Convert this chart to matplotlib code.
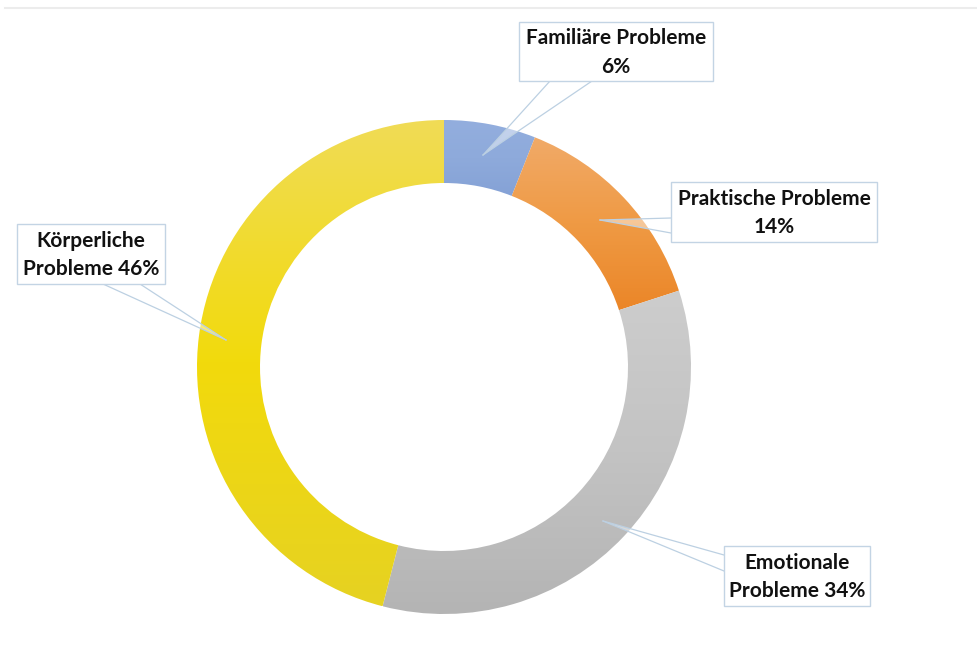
import numpy as np
import matplotlib.pyplot as plt
from matplotlib.patches import Polygon

# Data
labels = ["Familiäre Probleme\n6%", "Praktische Probleme\n14%",
          "Emotionale\nProbleme 34%", "Körperliche\nProbleme 46%"]
values = [6, 14, 34, 46]
# gradient colours per slice (top, middle, bottom)
grad_colors = [["#93aede", "#8eaadb", "#85a2d6"],
               ["#f1aa68", "#ef9a44", "#eb8628"],
               ["#cdcdcd", "#c3c3c3", "#b4b4b4"],
               ["#f0dc56", "#f2da0c", "#e6d222"]]

W, H = 978, 666


def px(x, y):
    # image pixel coords -> axes data coords
    return x, H - y


fig = plt.figure(figsize=(W / 100, H / 100), dpi=100)
ax = fig.add_axes([0, 0, 1, 1])

cx, cy = px(444, 367)
R = 247
ring = 63

wedges, _ = ax.pie(values, startangle=90, counterclock=False, center=(cx, cy),
                   radius=R, wedgeprops=dict(width=ring, linewidth=0),
                   frame=True)

# gradient fill for every wedge, clipped to the wedge
for w, cols in zip(wedges, grad_colors):
    w.set_facecolor("none")
    ext = w.get_path().get_extents()
    rgb = np.array([plt.matplotlib.colors.to_rgb(c) for c in cols])
    t = np.linspace(0, 1, 200)
    stops = [0, 0.5, 1]
    grad = np.stack([np.interp(t, stops, rgb[::-1, k]) for k in range(3)], axis=-1)
    img = ax.imshow(grad[:, None, :], extent=(ext.x0, ext.x1, ext.y0, ext.y1),
                    origin="lower", aspect="auto", interpolation="bilinear", zorder=1)
    img.set_clip_path(w)

ax.set_xlim(0, W)
ax.set_ylim(0, H)
ax.set_aspect("equal")
ax.axis("off")

# label boxes: (x0, y0, x1, y1) in image pixels
boxes = [(519, 22, 713, 81), (671, 182, 877, 242), (724, 546, 870, 606), (17, 224, 165, 284)]
# callout pointers: two points on the box and a tip inside the slice
callouts = [[(550, 81), (592, 81), (483, 155)],
            [(671, 218), (671, 233), (600, 220)],
            [(724, 555), (724, 571), (603, 521)],
            [(103, 284), (140, 284), (226, 340)]]

for (x0, y0, x1, y1), lab in zip(boxes, labels):
    bx, by = px(x0, y1)
    ax.add_patch(plt.Rectangle((bx, by), x1 - x0, y1 - y0, facecolor="white",
                               edgecolor="#c3d4e4", linewidth=1.0, zorder=4))
    tx, ty = px((x0 + x1) / 2, (y0 + y1) / 2 + 1)
    ax.text(tx, ty, lab, ha="center", va="center", fontsize=15,
            fontweight="bold", family="Lato", color="#111111",
            linespacing=1.55, zorder=6)

for pts in callouts:
    poly = Polygon([px(*p) for p in pts], closed=True, facecolor="white",
                   alpha=0.45, edgecolor="none", zorder=3)
    ax.add_patch(poly)
    tip = px(*pts[2])
    for p in pts[:2]:
        q = px(*p)
        ax.plot([q[0], tip[0]], [q[1], tip[1]], color="#bcd0e2", lw=0.9, zorder=3)

# faint top border line
ax.plot([5, W], [H - 8, H - 8], color="#ececec", lw=1.5, zorder=0)

fig.savefig("out.png", dpi=100)
